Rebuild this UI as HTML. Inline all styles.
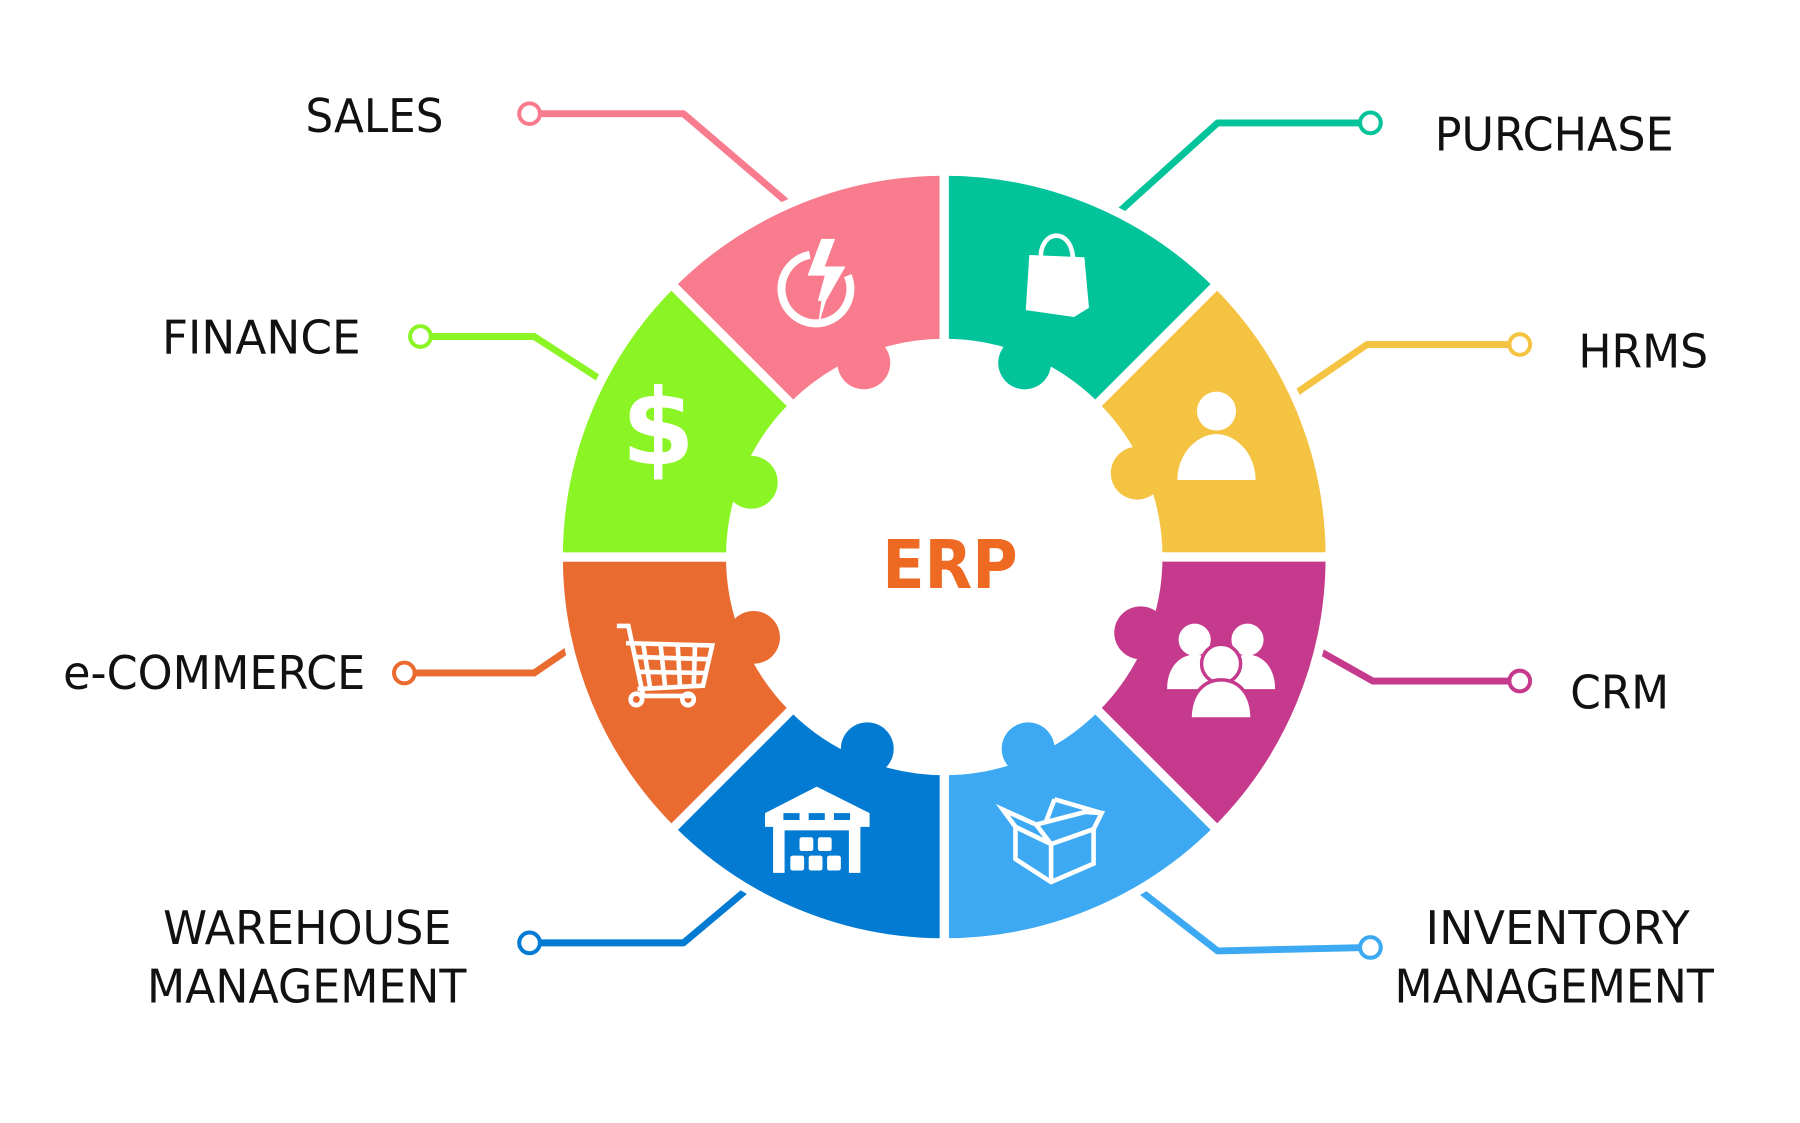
<!DOCTYPE html>
<html><head><meta charset="utf-8"><style>
html,body{margin:0;padding:0;background:#fff;}
svg{display:block;}
text{font-family:"DejaVu Sans","Liberation Sans",sans-serif;}
</style></head><body>
<svg width="1800" height="1123" viewBox="0 0 1556 971" preserveAspectRatio="none" xmlns="http://www.w3.org/2000/svg">
<g transform="scale(0.993)">
<g stroke-linecap="round" stroke-linejoin="round" fill="none" stroke-width="6">
<polyline points="461,99 595,99 692,182" stroke="#F97B8E"/>
<polyline points="1193,107 1060,107 968,190" stroke="#03C39B"/>
<polyline points="1323,300 1190,300 1120,348" stroke="#F5C342"/>
<polyline points="1323,593 1195,593 1140,562" stroke="#C53A8C"/>
<polyline points="1193,825 1060,828 988,772" stroke="#3DA9F2"/>
<polyline points="461,821 595,821 658,768" stroke="#037BD3"/>
<polyline points="352,586 465,586 503,560" stroke="#EA6B30"/>
<polyline points="366,293 465,293 530,335" stroke="#8BF425"/>
</g>
<g fill="#fff" stroke-width="3.5">
<circle cx="461" cy="99" r="9" stroke="#F97B8E"/>
<circle cx="1193" cy="107" r="9" stroke="#03C39B"/>
<circle cx="1323" cy="300" r="9" stroke="#F5C342"/>
<circle cx="1323" cy="593" r="9" stroke="#C53A8C"/>
<circle cx="1193" cy="825" r="9" stroke="#3DA9F2"/>
<circle cx="461" cy="821" r="9" stroke="#037BD3"/>
<circle cx="352" cy="586" r="9" stroke="#EA6B30"/>
<circle cx="366" cy="293" r="9" stroke="#8BF425"/>
</g>
<g stroke="#fff" stroke-width="8">
<path d="M584.4,247.4 A336,336 0 0 1 822,149 L822,299 A186,186 0 0 0 690.5,353.5 Z" fill="#F97B8E"/>
<path d="M822,149 A336,336 0 0 1 1059.6,247.4 L953.5,353.5 A186,186 0 0 0 822,299 Z" fill="#03C39B"/>
<path d="M1059.6,247.4 A336,336 0 0 1 1158,485 L1008,485 A186,186 0 0 0 953.5,353.5 Z" fill="#F5C342"/>
<path d="M1158,485 A336,336 0 0 1 1059.6,722.6 L953.5,616.5 A186,186 0 0 0 1008,485 Z" fill="#C53A8C"/>
<path d="M1059.6,722.6 A336,336 0 0 1 822,821 L822,671 A186,186 0 0 0 953.5,616.5 Z" fill="#3DA9F2"/>
<path d="M822,821 A336,336 0 0 1 584.4,722.6 L690.5,616.5 A186,186 0 0 0 822,671 Z" fill="#037BD3"/>
<path d="M584.4,722.6 A336,336 0 0 1 486,485 L636,485 A186,186 0 0 0 690.5,616.5 Z" fill="#EA6B30"/>
<path d="M486,485 A336,336 0 0 1 584.4,247.4 L690.5,353.5 A186,186 0 0 0 636,485 Z" fill="#8BF425"/>
</g>
<circle cx="752" cy="316" r="23" fill="#F97B8E"/>
<circle cx="892" cy="316" r="23" fill="#03C39B"/>
<circle cx="990" cy="412" r="23" fill="#F5C342"/>
<circle cx="654" cy="420" r="23" fill="#8BF425"/>
<circle cx="656" cy="555" r="23" fill="#EA6B30"/>
<circle cx="993" cy="551" r="23" fill="#C53A8C"/>
<circle cx="755" cy="652" r="23" fill="#037BD3"/>
<circle cx="895" cy="652" r="23" fill="#3DA9F2"/>
<g fill="#fff">
<path d="M705,222 A30,30 0 1 0 738,240" fill="none" stroke="#fff" stroke-width="7"/>
<polygon points="715,208 727,208 718,232 736,232 719,262 712,262 718,240 703,240"/>
<polygon points="715,262 719,262 712,285"/>
<path d="M896,222 L944,224 L948,268 L935,276 L893,270 Z"/>
<path d="M906,224 C906,200 932,198 934,224" fill="none" stroke="#fff" stroke-width="4"/>
<circle cx="1059" cy="358" r="17"/>
<path d="M1025,418 C1025,395 1042,378 1059,378 C1076,378 1093,395 1093,418 Z"/>
<text x="573" y="404" font-size="92" font-weight="bold" text-anchor="middle" font-family="Liberation Sans,sans-serif">$</text>
<circle cx="1040" cy="557" r="14"/><circle cx="1086" cy="557" r="14"/>
<path d="M1016,600 C1016,580 1028,570 1040,570 C1052,570 1062,580 1062,600 Z"/>
<path d="M1064,600 C1064,580 1074,570 1086,570 C1098,570 1110,580 1110,600 Z"/>
<circle cx="1063" cy="578" r="17" stroke="#C53A8C" stroke-width="3"/>
<path d="M1036,626 C1036,604 1048,592 1063,592 C1078,592 1090,604 1090,626 Z" stroke="#C53A8C" stroke-width="3"/>
</g>
<g fill="none" stroke="#fff" stroke-width="4">
<path d="M537,545 L547,545 L560,606 L604,606"/>
<path d="M545,560 L620,562 L612,597 L555,600"/>
<path d="M552,572 L617,574 M554,585 L614,586 M560,561 L566,599 M575,561 L579,598 M590,562 L592,598 M605,562 L604,597"/>
<circle cx="554" cy="609" r="5"/><circle cx="599" cy="609" r="5"/>
<path d="M873,705 L902,718 L945,707 L959,708 L952,722 L952,752 L915,768 L884,748 L884,720 Z"/>
<path d="M884,720 L915,735 L952,722 M915,735 L915,768 M902,718 L915,735 M918,696 L959,708 M918,696 L910,717"/>
</g>
<g fill="#fff">
<path d="M666,708 L711,685 L757,708 L757,720 L749,720 L749,760 L739,760 L739,723 L683,723 L683,760 L673,760 L673,720 L666,720 Z"/>
<rect x="682" y="708" width="14" height="6" fill="#037BD3"/><rect x="704" y="708" width="14" height="6" fill="#037BD3"/><rect x="726" y="708" width="14" height="6" fill="#037BD3"/>
<rect x="696" y="729" width="12" height="12" rx="2"/><rect x="712" y="729" width="12" height="12" rx="2"/>
<rect x="688" y="745" width="12" height="13" rx="2"/><rect x="704" y="745" width="12" height="13" rx="2"/><rect x="720" y="745" width="12" height="13" rx="2"/>
</g>
<text x="827" y="512" font-size="58" font-weight="bold" fill="#EE6A22" text-anchor="middle" font-family="Liberation Sans,sans-serif" textLength="118" lengthAdjust="spacingAndGlyphs">ERP</text>
<g font-size="40" fill="#111">
<text x="266" y="115" textLength="120" lengthAdjust="spacingAndGlyphs">SALES</text>
<text x="1249" y="131" textLength="208" lengthAdjust="spacingAndGlyphs">PURCHASE</text>
<text x="141" y="308" textLength="173" lengthAdjust="spacingAndGlyphs">FINANCE</text>
<text x="1374" y="320" textLength="113" lengthAdjust="spacingAndGlyphs">HRMS</text>
<text x="55" y="600" textLength="263" lengthAdjust="spacingAndGlyphs">e-COMMERCE</text>
<text x="1367" y="617" textLength="86" lengthAdjust="spacingAndGlyphs">CRM</text>
<text x="142" y="822" textLength="251" lengthAdjust="spacingAndGlyphs">WAREHOUSE</text>
<text x="128" y="873" textLength="278" lengthAdjust="spacingAndGlyphs">MANAGEMENT</text>
<text x="1241" y="822" textLength="230" lengthAdjust="spacingAndGlyphs">INVENTORY</text>
<text x="1214" y="873" textLength="278" lengthAdjust="spacingAndGlyphs">MANAGEMENT</text>
</g>
</g>
</svg>
</body></html>
